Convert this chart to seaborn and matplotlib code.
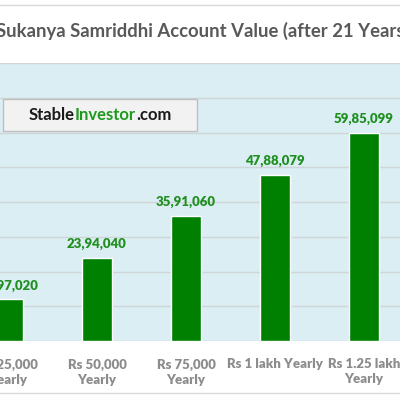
import matplotlib
matplotlib.use("Agg")
import matplotlib.pyplot as plt
import seaborn as sns
import pandas as pd
from matplotlib.patches import Rectangle
from matplotlib.lines import Line2D

categories = ["Rs 25,000\nYearly", "Rs 50,000\nYearly", "Rs 75,000\nYearly",
              "Rs 1 lakh Yearly", "Rs 1.25 lakh\nYearly"]
values = [1197020, 2394040, 3591060, 4788079, 5985099]
value_labels = ["11,97,020", "23,94,040", "35,91,060", "47,88,079", "59,85,099"]
title = "Sukanya Samriddhi Account Value (after 21 Years)"

df = pd.DataFrame({"cat": categories, "val": values})

sns.set_style("white")
plt.rcParams["font.family"] = ["Lato", "DejaVu Sans"]

fig = plt.figure(figsize=(4, 4), dpi=100)
ax = fig.add_axes([0, (400 - 341) / 400, 1, 278 / 400])
ax.set_facecolor("#DAEEF3")

sns.barplot(data=df, x="cat", y="val", color="#008000", saturation=1,
            width=0.326, ax=ax, zorder=3)

ax.set_xlim(-8 / 89, (400 - 8) / 89)
ax.set_ylim(0, 8000000)
ax.set_yticks([i * 1000000 for i in range(9)])
ax.yaxis.grid(True, color="#D0D5D8", linewidth=1.0, zorder=0)
ax.set_axisbelow(True)
ax.tick_params(axis="y", left=False, labelleft=False)
ax.tick_params(axis="x", bottom=False, pad=9)
ax.set_xlabel("")
ax.set_ylabel("")
for s in ax.spines.values():
    s.set_visible(False)
ax.set_xticks(range(len(categories)))
ax.set_xticklabels(categories, fontsize=9.5, fontweight="heavy", color="#8C8C8C",
                   linespacing=1.3)

for i, (v, lab) in enumerate(zip(values, value_labels)):
    ax.annotate(lab, (i, v), xytext=(0, 10), textcoords="offset points",
                ha="center", va="center", fontsize=9.5, fontweight="heavy",
                color="#1F8F1F", zorder=5)

# title
fig.text(-4 / 400, 1 - 31 / 400, title, ha="left", va="center", fontsize=13.3,
         fontweight="bold", color="#595959")

# border lines
fig.add_artist(Line2D([0, 1], [1 - 5 / 400, 1 - 5 / 400], color="#D9D9D9", lw=1))
fig.add_artist(Line2D([0, 1], [1 - 393 / 400, 1 - 393 / 400], color="#D9D9D9", lw=1))

# watermark box
box = Rectangle((3 / 400, 1 - 131 / 400), 194 / 400, 32 / 400, transform=fig.transFigure,
                facecolor="#F2F2F2", edgecolor="#BFBFBF", lw=1, zorder=10)
fig.add_artist(box)
fig.canvas.draw()
renderer = fig.canvas.get_renderer()
parts = [("Stable", "#1A1A1A"), ("Investor", "#1E9A1E"), (".com", "#1A1A1A")]
texts = []
x0 = 28
for txt, col in parts:
    t = fig.text(x0 / 400, 1 - 115 / 400, txt, ha="left", va="center", fontsize=12,
                 fontweight="bold", color=col, zorder=11)
    bb = t.get_window_extent(renderer)
    x0 += bb.width
    texts.append(t)
total = x0 - 28
shift = (100 - total / 2) - 28
for t in texts:
    x, y = t.get_position()
    t.set_position((x + shift / 400, y))

fig.savefig("out.png", dpi=100)
